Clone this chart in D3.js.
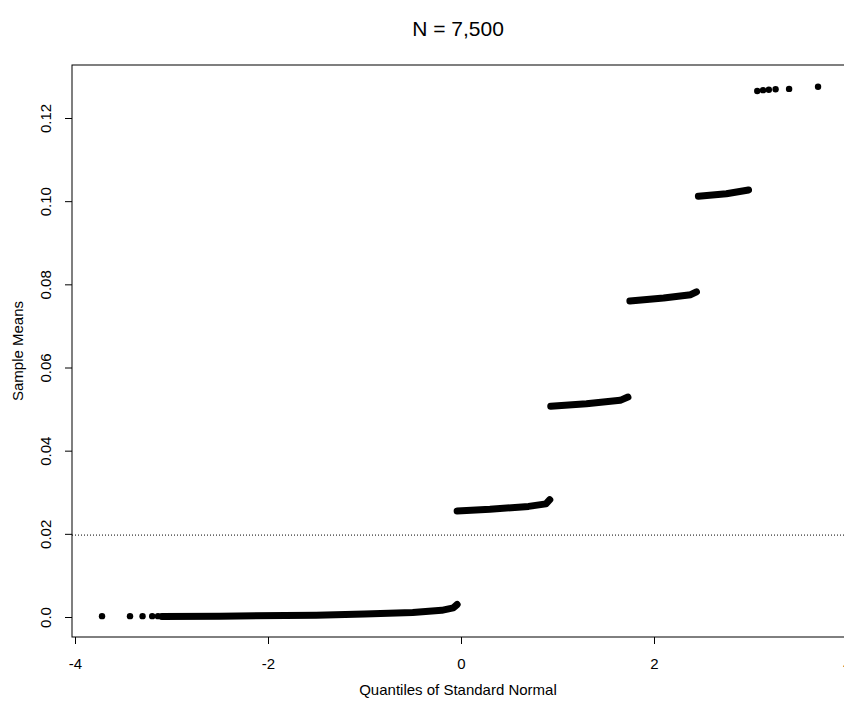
<!DOCTYPE html>
<html><head><meta charset="utf-8">
<script src="https://cdn.jsdelivr.net/npm/d3@7"></script>
<style>body{margin:0;background:#fff}text{font-family:"Liberation Sans",Arial,sans-serif}</style>
</head><body><svg id="c" width="844" height="702"></svg>
<script>
(function (d3) {
    'use strict';

    // Bands of dense points as [quantile, mean] anchors.
    var bands = [
        [[-3.1, 0.0001], [-2.5, 0.0002], [-1.5, 0.0004], [-1.0, 0.0007], [-0.5, 0.0011], [-0.2, 0.0016], [-0.08, 0.0022], [-0.04, 0.003]],
        [[-0.04, 0.0255], [0.3, 0.0259], [0.7, 0.0266], [0.88, 0.0272], [0.92, 0.0282]],
        [[0.93, 0.0507], [1.3, 0.0513], [1.65, 0.0521], [1.73, 0.0529]],
        [[1.75, 0.0760], [2.1, 0.0767], [2.38, 0.0775], [2.44, 0.0782]],
        [[2.46, 0.1012], [2.75, 0.1018], [2.98, 0.1027]]
    ];
    // Isolated points in the tails.
    var loneX = [-3.72, -3.43, -3.3, -3.2, -3.14, 3.07, 3.13, 3.19, 3.26, 3.4, 3.7];
    var loneY = [0.0002, 0.0002, 0.0002, 0.0002, 0.0002, 0.1265, 0.1267, 0.1268, 0.1269, 0.127, 0.1275];
    var refLine = 0.0197;
    var xTicks = [-4, -2, 0, 2, 4];
    var xLabels = ['-4', '-2', '0', '2', '4'];
    var yTicks = [0, 0.02, 0.04, 0.06, 0.08, 0.10, 0.12];
    var yLabels = ['0.0', '0.02', '0.04', '0.06', '0.08', '0.10', '0.12'];

    var box = {left: 72, right: 850, top: 65, bottom: 637};
    var x = d3.scaleLinear().domain([-4, 4]).range([75, 847]);
    var y = d3.scaleLinear().domain([0, 0.12]).range([617, 118]);

    var svg = d3.select('#c');

    svg.append('text')
        .attr('x', 458).attr('y', 36)
        .attr('text-anchor', 'middle')
        .attr('font-size', 21)
        .text('N = 7,500');

    svg.append('line')
        .attr('x1', box.left).attr('x2', box.right)
        .attr('y1', y(refLine)).attr('y2', y(refLine))
        .attr('stroke', '#000').attr('stroke-width', 1)
        .attr('stroke-dasharray', '1,2');

    var line = d3.line()
        .x(function (d) { return x(d[0]); })
        .y(function (d) { return y(d[1]); });

    svg.selectAll('.band').data(bands).enter().append('path')
        .attr('class', 'band')
        .attr('d', line)
        .attr('fill', 'none')
        .attr('stroke', '#000')
        .attr('stroke-width', 7)
        .attr('stroke-linecap', 'round')
        .attr('stroke-linejoin', 'round');

    svg.selectAll('.pt').data(loneX).enter().append('circle')
        .attr('class', 'pt')
        .attr('cx', function (d) { return x(d); })
        .attr('cy', function (d, i) { return y(loneY[i]); })
        .attr('r', 3.2)
        .attr('fill', '#000');

    svg.append('rect')
        .attr('x', box.left).attr('y', box.top)
        .attr('width', box.right - box.left).attr('height', box.bottom - box.top)
        .attr('fill', 'none').attr('stroke', '#000');

    var xa = svg.append('g')
        .attr('transform', 'translate(0,' + box.bottom + ')')
        .call(d3.axisBottom(x).tickValues(xTicks).tickSize(7).tickPadding(14)
            .tickFormat(function (d, i) { return xLabels[i]; }));
    xa.select('.domain').remove();
    xa.selectAll('text').attr('font-size', 15).attr('fill', '#000');

    var ya = svg.append('g')
        .attr('transform', 'translate(' + box.left + ',0)')
        .call(d3.axisLeft(y).tickValues(yTicks).tickSize(7)
            .tickFormat(function (d, i) { return yLabels[i]; }));
    ya.select('.domain').remove();
    ya.selectAll('.tick text')
        .attr('font-size', 15).attr('fill', '#000')
        .attr('text-anchor', 'middle')
        .attr('x', -26).attr('y', 0).attr('dy', '0.35em')
        .attr('transform', 'rotate(-90,-26,0)');

    svg.append('text')
        .attr('x', 458).attr('y', 695)
        .attr('text-anchor', 'middle').attr('font-size', 15)
        .text('Quantiles of Standard Normal');

    svg.append('text')
        .attr('transform', 'translate(23,351) rotate(-90)')
        .attr('text-anchor', 'middle').attr('font-size', 15)
        .text('Sample Means');
})(d3);
</script></body></html>
